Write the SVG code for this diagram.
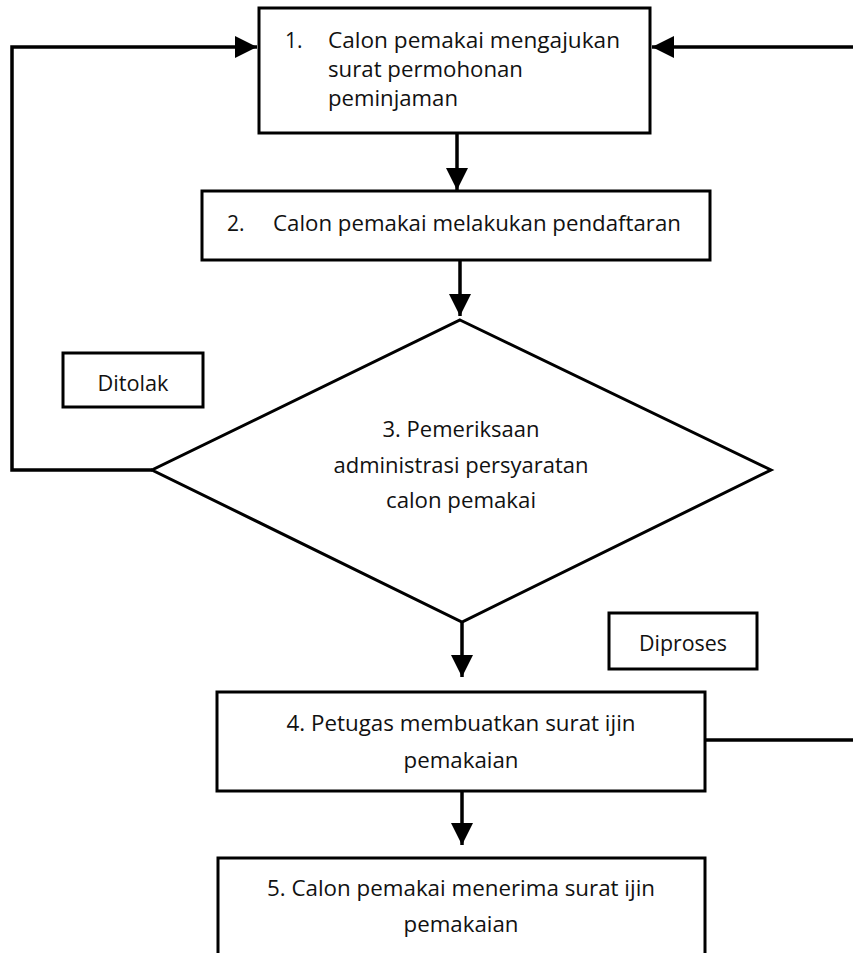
<svg xmlns="http://www.w3.org/2000/svg" width="853" height="953" viewBox="0 0 853 953">
<style>
.box{fill:#fff;stroke:#000;stroke-width:3}
.t{font-family:"Open Sans","Liberation Sans",sans-serif;font-size:21px;fill:#111}
.m{text-anchor:middle}
.c{fill:none;stroke:#000;stroke-width:3.5}
</style>
<defs>
<marker id="ah" markerUnits="userSpaceOnUse" markerWidth="22" markerHeight="22" viewBox="0 0 20 20" refX="20" refY="10" orient="auto">
<path d="M0,0 L20,10 L0,20 Z" fill="#000"/>
</marker>
</defs>
<rect width="853" height="953" fill="#fff"/>
<g id="connectors">
<path class="c" d="M457,133 V190" marker-end="url(#ah)"/>
<path class="c" d="M460,260 V316" marker-end="url(#ah)"/>
<path class="c" d="M462,622 V677" marker-end="url(#ah)"/>
<path class="c" d="M462,791 V845" marker-end="url(#ah)"/>
<path class="c" d="M152,470 H12 V47 H257" marker-end="url(#ah)"/>
<path class="c" d="M853,47 H652" marker-end="url(#ah)"/>
<path class="c" d="M705,740 H853"/>
</g>
<g id="n1">
<rect class="box" x="259" y="8" width="391" height="125"/>
<text class="t" x="285" y="48">1.</text>
<text class="t" x="328" y="48" textLength="292" lengthAdjust="spacingAndGlyphs">Calon pemakai mengajukan</text>
<text class="t" x="328" y="77" textLength="195" lengthAdjust="spacingAndGlyphs">surat permohonan</text>
<text class="t" x="328" y="106" textLength="130" lengthAdjust="spacingAndGlyphs">peminjaman</text>
</g>
<g id="n2">
<rect class="box" x="202" y="191" width="508" height="69"/>
<text class="t" x="227" y="231">2.</text>
<text class="t" x="273" y="231" textLength="408" lengthAdjust="spacingAndGlyphs">Calon pemakai melakukan pendaftaran</text>
</g>
<g id="n3">
<path class="box" d="M460,320 L771,470 L462,622 L152,470 Z"/>
<text class="t m" x="461" y="437" textLength="157" lengthAdjust="spacingAndGlyphs">3. Pemeriksaan</text>
<text class="t m" x="461" y="473" textLength="255" lengthAdjust="spacingAndGlyphs">administrasi persyaratan</text>
<text class="t m" x="461" y="508" textLength="150" lengthAdjust="spacingAndGlyphs">calon pemakai</text>
</g>
<g id="ditolak">
<rect class="box" x="63" y="353" width="140" height="54"/>
<text class="t m" x="133" y="391" textLength="71" lengthAdjust="spacingAndGlyphs">Ditolak</text>
</g>
<g id="diproses">
<rect class="box" x="609" y="613" width="148" height="56"/>
<text class="t m" x="683" y="651" textLength="88" lengthAdjust="spacingAndGlyphs">Diproses</text>
</g>
<g id="n4">
<rect class="box" x="217" y="692" width="488" height="99"/>
<text class="t m" x="461" y="731" textLength="349" lengthAdjust="spacingAndGlyphs">4. Petugas membuatkan surat ijin</text>
<text class="t m" x="461" y="768" textLength="115" lengthAdjust="spacingAndGlyphs">pemakaian</text>
</g>
<g id="n5">
<rect class="box" x="218" y="858" width="487" height="120"/>
<text class="t m" x="461" y="896" textLength="388" lengthAdjust="spacingAndGlyphs">5. Calon pemakai menerima surat ijin</text>
<text class="t m" x="461" y="932" textLength="115" lengthAdjust="spacingAndGlyphs">pemakaian</text>
</g>
</svg>
